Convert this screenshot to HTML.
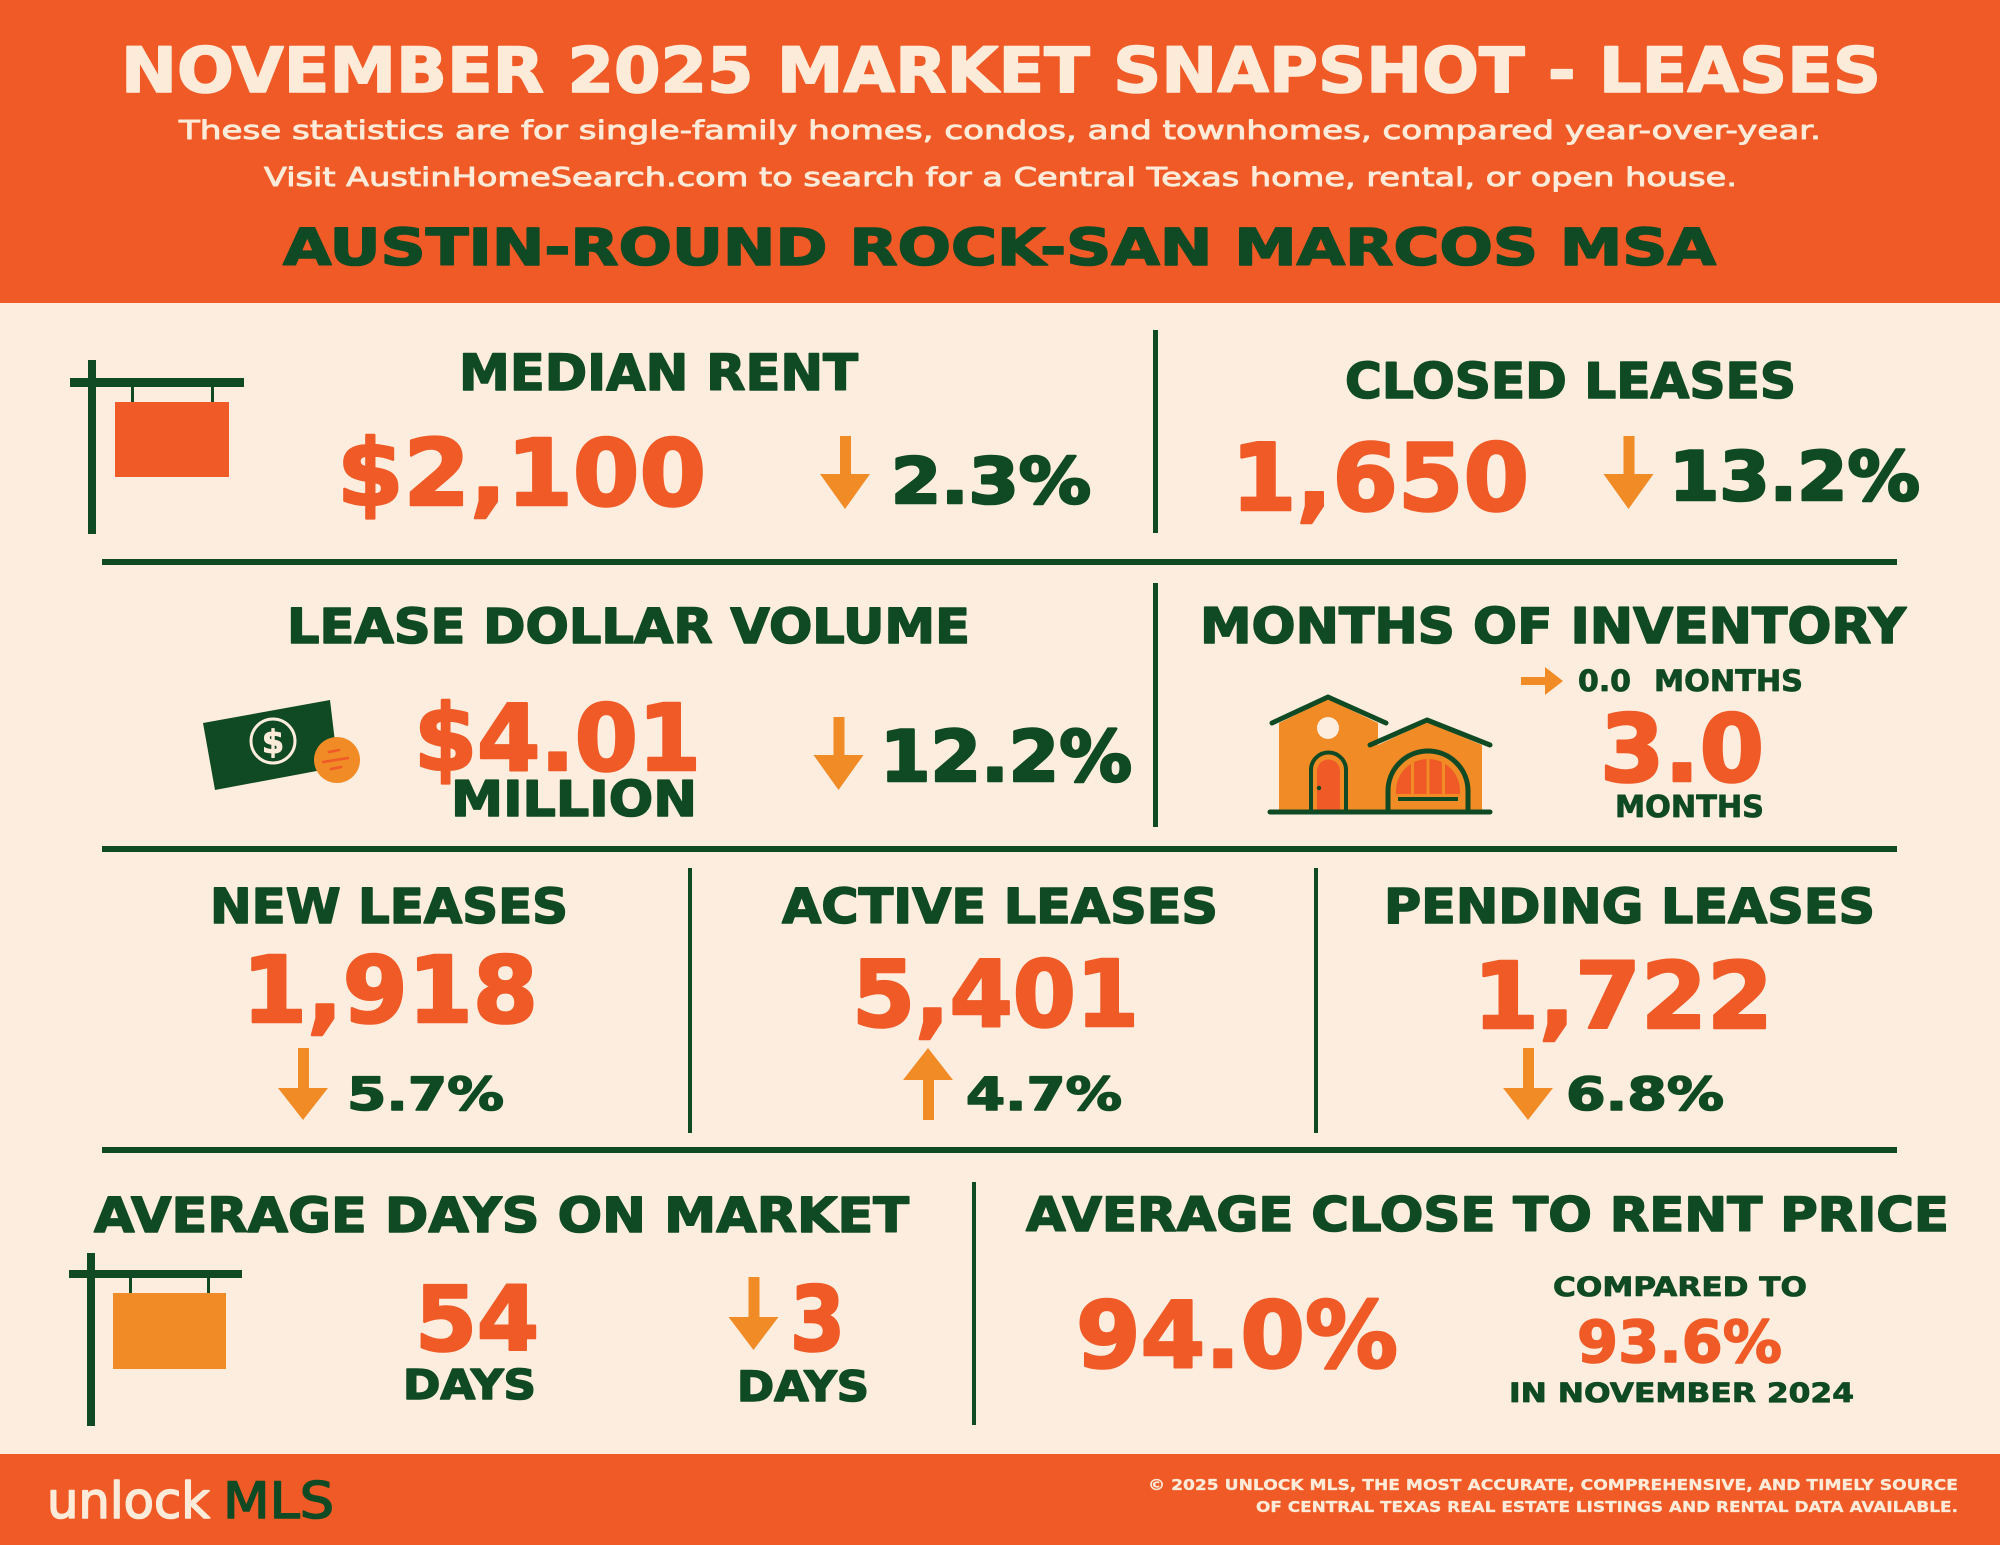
<!DOCTYPE html>
<html>
<head>
<meta charset="utf-8">
<style>
html,body{margin:0;padding:0;background:#FDEDDF;}
svg{display:block;}
.h{font-family:"DejaVu Sans","Liberation Sans",sans-serif;font-weight:bold;stroke-linejoin:round;}
.s{font-family:"DejaVu Sans","Liberation Sans",sans-serif;font-weight:normal;stroke-linejoin:round;}
.g{fill:#0F4A24;stroke:#0F4A24;}
.o{fill:#EF5A26;stroke:#EF5A26;}
.c{fill:#FDEBD9;stroke:#FDEBD9;}
.w1{stroke-width:1.6;}
.w2{stroke-width:2.6;}
.w0{stroke-width:0.8;}
</style>
</head>
<body>
<svg width="2000" height="1545" viewBox="0 0 2000 1545" xmlns="http://www.w3.org/2000/svg">
  <rect x="0" y="0" width="2000" height="1545" fill="#FDEDDF"/>
  <!-- header -->
  <rect x="0" y="0" width="2000" height="303" fill="#EF5A26"/>
  <text x="121" y="92" textLength="1760" lengthAdjust="spacingAndGlyphs" class="h c w1" font-size="62">NOVEMBER 2025 MARKET SNAPSHOT - LEASES</text>
  <text x="179" y="139" textLength="1642" lengthAdjust="spacingAndGlyphs" class="s c" stroke-width="0.9" font-size="26">These statistics are for single-family homes, condos, and townhomes, compared year-over-year.</text>
  <text x="264" y="186" textLength="1473" lengthAdjust="spacingAndGlyphs" class="s c" stroke-width="0.9" font-size="26">Visit AustinHomeSearch.com to search for a Central Texas home, rental, or open house.</text>
  <text x="283" y="265" textLength="1433" lengthAdjust="spacingAndGlyphs" class="h g w1" font-size="51">AUSTIN-ROUND ROCK-SAN MARCOS MSA</text>

  <!-- dividers -->
  <g fill="#0F4A24">
    <rect x="102" y="559" width="1795" height="6"/>
    <rect x="102" y="846" width="1795" height="6"/>
    <rect x="102" y="1147" width="1795" height="6"/>
    <rect x="1153" y="330" width="5" height="203"/>
    <rect x="1153" y="583" width="5" height="244"/>
    <rect x="688" y="868" width="4" height="265"/>
    <rect x="1314" y="868" width="4" height="265"/>
    <rect x="972" y="1182" width="4" height="243"/>
  </g>

  <!-- ROW 1 -->
  <g fill="#0F4A24">
    <rect x="88" y="360" width="8" height="174"/>
    <rect x="70" y="378" width="174" height="9"/>
    <rect x="131" y="386" width="3" height="16"/>
    <rect x="211" y="386" width="3" height="16"/>
  </g>
  <rect x="115" y="402" width="114" height="75" fill="#EF5A26"/>

  <text x="459" y="390" textLength="399" lengthAdjust="spacingAndGlyphs" class="h g w1" font-size="50">MEDIAN RENT</text>
  <text x="337" y="505" textLength="369" lengthAdjust="spacingAndGlyphs" class="h o w2" font-size="92">$2,100</text>
  <path d="M840,436 h11 v38 h19 l-25,35 l-25,-35 h20 z" fill="#F08B25"/>
  <text x="891" y="503" textLength="200" lengthAdjust="spacingAndGlyphs" class="h g w2" font-size="63">2.3%</text>

  <text x="1345" y="398" textLength="451" lengthAdjust="spacingAndGlyphs" class="h g w1" font-size="49">CLOSED LEASES</text>
  <text x="1231" y="510" textLength="298" lengthAdjust="spacingAndGlyphs" class="h o w2" font-size="93">1,650</text>
  <path d="M1623.5,436 h11 v38 h19 l-25,35 l-25,-35 h20 z" fill="#F08B25"/>
  <text x="1669" y="500" textLength="251" lengthAdjust="spacingAndGlyphs" class="h g w2" font-size="68">13.2%</text>

  <!-- ROW 2 -->
  <text x="287" y="643" textLength="683" lengthAdjust="spacingAndGlyphs" class="h g w1" font-size="48">LEASE DOLLAR VOLUME</text>
  <polygon points="203,723 330,700 338,767 215,790" fill="#0F4A24"/>
  <circle cx="273" cy="741" r="22" fill="none" stroke="#FDEDDF" stroke-width="3"/>
  <text x="273" y="753" text-anchor="middle" class="h c w0" font-size="32">$</text>
  <circle cx="337" cy="760" r="23" fill="#F08B25"/>
  <g stroke="#EF5A26" stroke-width="2.5" stroke-linecap="round">
    <line x1="329" y1="752" x2="339" y2="750"/>
    <line x1="323" y1="762" x2="348" y2="758"/>
    <line x1="331" y1="769" x2="341" y2="767"/>
  </g>
  <text x="414" y="770" textLength="287" lengthAdjust="spacingAndGlyphs" class="h o w2" font-size="92">$4.01</text>
  <text x="451" y="816" textLength="246" lengthAdjust="spacingAndGlyphs" class="h g w1" font-size="49">MILLION</text>
  <path d="M833.5,717 h11 v38 h19 l-25,35 l-25,-35 h20 z" fill="#F08B25"/>
  <text x="880" y="781" textLength="252" lengthAdjust="spacingAndGlyphs" class="h g w2" font-size="70">12.2%</text>

  <text x="1200" y="643" textLength="706" lengthAdjust="spacingAndGlyphs" class="h g w1" font-size="49">MONTHS OF INVENTORY</text>
  <!-- house icon -->
  <polygon points="1279,723 1328,699 1378,723 1378,812 1279,812" fill="#F08B25"/>
  <polygon points="1378,745 1427,722 1482,745 1482,812 1378,812" fill="#F08B25"/>
  <circle cx="1328" cy="728" r="11" fill="#FDEDDF"/>
  <path d="M1317,810 V771 A11.5,11.5 0 0 1 1340,771 V810 Z" fill="#EF5A26"/>
  <path d="M1311,812 V770 A17.5,17.5 0 0 1 1346,770 V812" fill="none" stroke="#0F4A24" stroke-width="4"/>
  <circle cx="1319" cy="788" r="2.2" fill="#0F4A24"/>
  <path d="M1396,794 V791 A32,32 0 0 1 1460,791 V794 Z" fill="#EF5A26"/>
  <g fill="#F08B25">
    <rect x="1411" y="756" width="3" height="40"/>
    <rect x="1426.5" y="756" width="3" height="40"/>
    <rect x="1442" y="756" width="3" height="40"/>
  </g>
  <rect x="1398" y="797" width="60" height="4" fill="#0F4A24"/>
  <path d="M1388,812 V791 A40,40 0 0 1 1468,791 V812" fill="none" stroke="#0F4A24" stroke-width="5"/>
  <g fill="none" stroke="#0F4A24" stroke-width="5" stroke-linecap="round" stroke-linejoin="round">
    <polyline points="1272,723 1328,697 1386,723"/>
    <polyline points="1370,745 1427,720 1490,745"/>
    <line x1="1270" y1="812" x2="1490" y2="812"/>
  </g>
  <path d="M1521,677 h24 v-10 l18,14 l-18,14 v-10 h-24 z" fill="#F08B25"/>
  <text x="1578" y="691" textLength="53" lengthAdjust="spacingAndGlyphs" class="h g w0" font-size="29">0.0</text>
  <text x="1654" y="691" textLength="149" lengthAdjust="spacingAndGlyphs" class="h g w0" font-size="29">MONTHS</text>
  <text x="1600" y="781" textLength="164" lengthAdjust="spacingAndGlyphs" class="h o w2" font-size="93">3.0</text>
  <text x="1615" y="817" textLength="149" lengthAdjust="spacingAndGlyphs" class="h g w0" font-size="30">MONTHS</text>

  <!-- ROW 3 -->
  <text x="210" y="923" textLength="358" lengthAdjust="spacingAndGlyphs" class="h g w1" font-size="48">NEW LEASES</text>
  <text x="782" y="923" textLength="436" lengthAdjust="spacingAndGlyphs" class="h g w1" font-size="48">ACTIVE LEASES</text>
  <text x="1384" y="923" textLength="491" lengthAdjust="spacingAndGlyphs" class="h g w1" font-size="48">PENDING LEASES</text>

  <text x="242" y="1022" textLength="296" lengthAdjust="spacingAndGlyphs" class="h o w2" font-size="92">1,918</text>
  <text x="852" y="1026" textLength="287" lengthAdjust="spacingAndGlyphs" class="h o w2" font-size="92">5,401</text>
  <text x="1473" y="1028" textLength="300" lengthAdjust="spacingAndGlyphs" class="h o w2" font-size="92">1,722</text>

  <path d="M298,1048 h11 v40 h19 l-25,32 l-25,-32 h20 z" fill="#F08B25"/>
  <text x="347" y="1110" textLength="157" lengthAdjust="spacingAndGlyphs" class="h g w1" font-size="45">5.7%</text>
  <path d="M923,1120 h11 v-40 h19 l-25,-32 l-25,32 h20 z" fill="#F08B25"/>
  <text x="966" y="1110" textLength="156" lengthAdjust="spacingAndGlyphs" class="h g w1" font-size="45">4.7%</text>
  <path d="M1523,1048 h11 v40 h19 l-25,32 l-25,-32 h20 z" fill="#F08B25"/>
  <text x="1566" y="1110" textLength="158" lengthAdjust="spacingAndGlyphs" class="h g w1" font-size="45">6.8%</text>

  <!-- ROW 4 -->
  <text x="94" y="1232" textLength="815" lengthAdjust="spacingAndGlyphs" class="h g w1" font-size="48">AVERAGE DAYS ON MARKET</text>
  <g fill="#0F4A24">
    <rect x="87" y="1253" width="8" height="173"/>
    <rect x="69" y="1270" width="173" height="8"/>
    <rect x="129" y="1277" width="3" height="16"/>
    <rect x="207" y="1277" width="3" height="16"/>
  </g>
  <rect x="113" y="1293" width="113" height="76" fill="#F08B25"/>
  <text x="415" y="1350" textLength="124" lengthAdjust="spacingAndGlyphs" class="h o w2" font-size="89">54</text>
  <text x="403" y="1399" textLength="133" lengthAdjust="spacingAndGlyphs" class="h g w1" font-size="41">DAYS</text>
  <path d="M748.5,1277 h11 v40 h19 l-25,33 l-25,-33 h20 z" fill="#F08B25"/>
  <text x="790" y="1350" textLength="55" lengthAdjust="spacingAndGlyphs" class="h o w2" font-size="89">3</text>
  <text x="737" y="1401" textLength="132" lengthAdjust="spacingAndGlyphs" class="h g w1" font-size="42">DAYS</text>

  <text x="1026" y="1231" textLength="923" lengthAdjust="spacingAndGlyphs" class="h g w1" font-size="47">AVERAGE CLOSE TO RENT PRICE</text>
  <text x="1076" y="1367" textLength="322" lengthAdjust="spacingAndGlyphs" class="h o w2" font-size="92">94.0%</text>
  <text x="1553" y="1296" textLength="254" lengthAdjust="spacingAndGlyphs" class="h g w0" font-size="27">COMPARED TO</text>
  <text x="1577" y="1362" textLength="205" lengthAdjust="spacingAndGlyphs" class="h o w1" font-size="58">93.6%</text>
  <text x="1509" y="1402" textLength="345" lengthAdjust="spacingAndGlyphs" class="h g w0" font-size="27">IN NOVEMBER 2024</text>

  <!-- footer -->
  <rect x="0" y="1454" width="2000" height="91" fill="#EF5A26"/>
  <text x="47" y="1518" textLength="163" lengthAdjust="spacingAndGlyphs" class="s c" stroke-width="1.6" font-size="50">unlock</text>
  <text x="223" y="1518" textLength="111" lengthAdjust="spacingAndGlyphs" class="s g" stroke-width="1.6" font-size="50">MLS</text>
  <text x="1148" y="1490" textLength="810" lengthAdjust="spacingAndGlyphs" class="h c" stroke-width="0.3" font-size="15">© 2025 UNLOCK MLS, THE MOST ACCURATE, COMPREHENSIVE, AND TIMELY SOURCE</text>
  <text x="1256" y="1512" textLength="702" lengthAdjust="spacingAndGlyphs" class="h c" stroke-width="0.3" font-size="15">OF CENTRAL TEXAS REAL ESTATE LISTINGS AND RENTAL DATA AVAILABLE.</text>
</svg>
</body>
</html>
